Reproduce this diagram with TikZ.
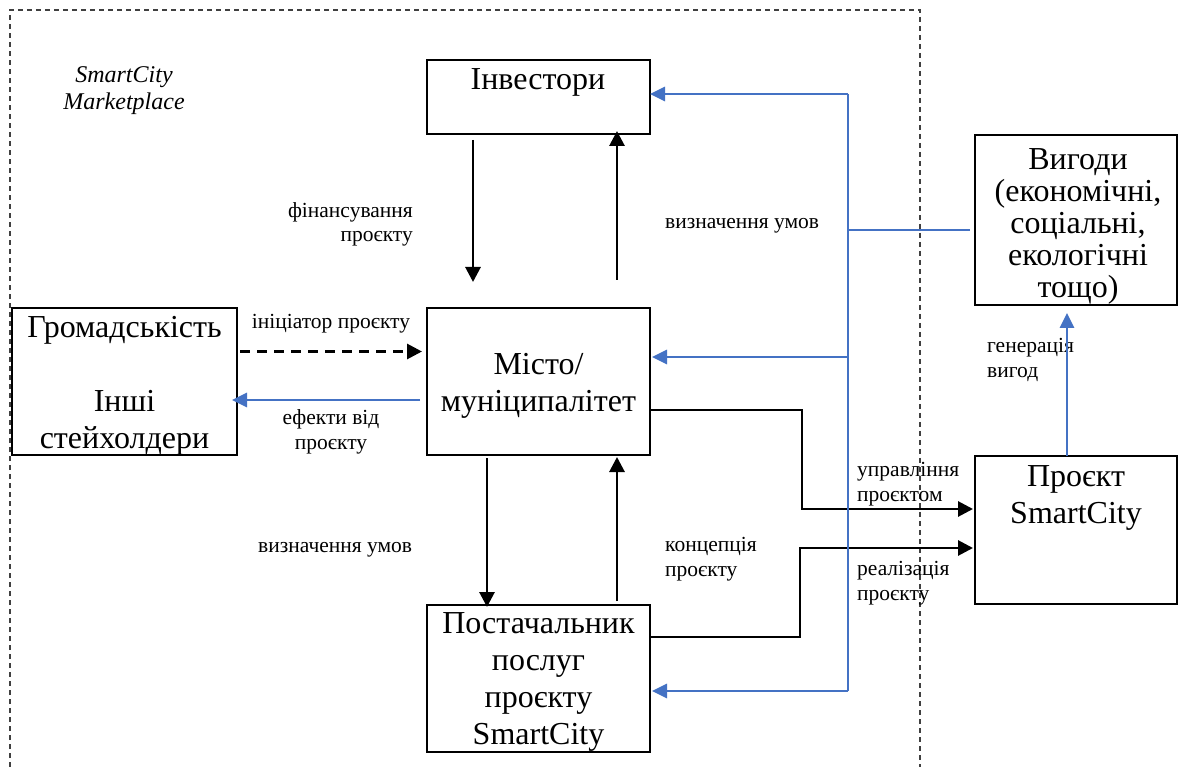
\documentclass[tikz,border=0pt]{standalone}
\usepackage{fontspec}
\setmainfont{Liberation Serif}
\usetikzlibrary{arrows.meta,calc}
\definecolor{myblue}{RGB}{68,114,196}
\begin{document}
\begin{tikzpicture}[x=1pt,y=-1pt,
  box/.style={draw,line width=2.6pt,inner sep=0pt,outer sep=0pt},
  bt/.style={font=\fontsize{32}{37}\selectfont,align=center,anchor=base,inner sep=0pt},
  lt/.style={font=\fontsize{21.5}{24.8}\selectfont,inner sep=0pt,anchor=base},
  arr/.style={line width=2.9pt,-{Triangle[length=15pt,width=15pt]}},
  barr/.style={myblue,line width=2.7pt,-{Triangle[length=15pt,width=14pt]}},
  bline/.style={myblue,line width=1.3pt},
  frame/.style={dash pattern=on 5pt off 4pt,line width=1.1pt,black!75}
]
\useasboundingbox (0,0) rectangle (1178,767);
\fill[white] (0,0) rectangle (1178,767);
% boundary
\draw[frame] (10,767) -- (10,10) -- (920,10) -- (920,767);
% boxes
\node[box,minimum width=223pt,minimum height=74pt]  (inv)  at (538.5,97) {};
\node[box,minimum width=223pt,minimum height=147pt] (city) at (538.5,381.5) {};
\node[box,minimum width=225pt,minimum height=147pt] (pub)  at (124.5,381.5) {};
\node[box,minimum width=223pt,minimum height=147pt] (sup)  at (538.5,678.5) {};
\node[box,minimum width=202pt,minimum height=170pt] (ben)  at (1076,220) {};
\node[box,minimum width=202pt,minimum height=148pt] (proj) at (1076,530) {};
% box texts (anchor base = baseline of the last line)
\node[bt] (invt)  at (538,90)  {Інвестори};
\node[bt] (cityt) at (538.5,411) {Місто/\\муніципалітет};
\node[bt] (pubt)  at (124.5,448) {Громадськість\\~\\Інші\\стейхолдери};
\node[bt] (supt)  at (538.5,744) {Постачальник\\послуг\\проєкту\\SmartCity};
\node[bt,font=\fontsize{32}{32}\selectfont] (bent) at (1078,298) {Вигоди\\(економічні,\\соціальні,\\екологічні\\тощо)};
\node[bt] (projt) at (1076,523) {Проєкт\\SmartCity};
% labels
\node[font=\fontsize{24}{27}\selectfont\itshape,align=center,anchor=base,inner sep=0pt] (mk) at (124,110) {SmartCity\\Marketplace};
\node[lt,align=right,anchor=base east] (l1) at (413,242) {фінансування\\проєкту};
\node[lt,anchor=base west] (l2) at (665,229) {визначення умов};
\node[lt] (l3) at (331,329) {ініціатор проєкту};
\node[lt,align=center] (l4) at (331,449) {ефекти від\\проєкту};
\node[lt,anchor=base west] (l5) at (258,552) {визначення умов};
\node[lt,align=left,anchor=base west] (l6) at (665,576) {концепція\\проєкту};
\node[lt,align=left,anchor=base west] (l7) at (857,501) {управління\\проєктом};
\node[lt,align=left,anchor=base west] (l8) at (857,600) {реалізація\\проєкту};
\node[lt,align=left,anchor=base west] (l9) at (987,377) {генерація\\вигод};
% black vertical arrows
\draw[arr] ($(inv.south west)+(46,6)$) -- ($(city.north west)+(46,-26)$);
\draw[arr] ($(city.north west)+(190,-28)$) -- ($(inv.south west)+(190,-3)$);
\draw[arr] ($(city.south west)+(60,3)$) -- ($(sup.north west)+(60,2)$);
\draw[arr] ($(sup.north west)+(190,-4)$) -- ($(city.south west)+(190,2)$);
% horizontal arrows to public
\draw[arr,dash pattern=on 10pt off 7pt] ($(pub.east)+(3,-30)$) -- ($(city.west)+(-5,-30)$);
\draw[barr] ($(city.west)+(-7,18.5)$) -- ($(pub.east)+(-5,18.5)$);
% to project
\coordinate (k1) at (802,410);
\coordinate (k2) at (800,637);
\draw[arr] (city.east |- k1) -- (k1) |- ($(proj.west)+(-2,-21)$);
\draw[arr] (sup.east |- k2) -- (k2) |- ($(proj.west)+(-2,18)$);
% blue conditions tree
\coordinate (bt) at (848,94);
\coordinate (bb) at (848,691);
\coordinate (bm) at (848,230);
\draw[bline] (bt) -- (bb);
\draw[bline] (bm) -- ($(ben.west |- bm)+(-5,0)$);
\draw[barr] (bt) -- (inv.east |- bt);
\draw[barr] (848,357) -- ($(city.east)+(2,-24.5)$);
\draw[barr] (bb) -- ($(sup.east |- bb)+(2,0)$);
% benefits
\draw[barr] (proj.north -| 1067,0) -- ($(ben.south -| 1067,0)+(0,8)$);
\end{tikzpicture}
\end{document}
